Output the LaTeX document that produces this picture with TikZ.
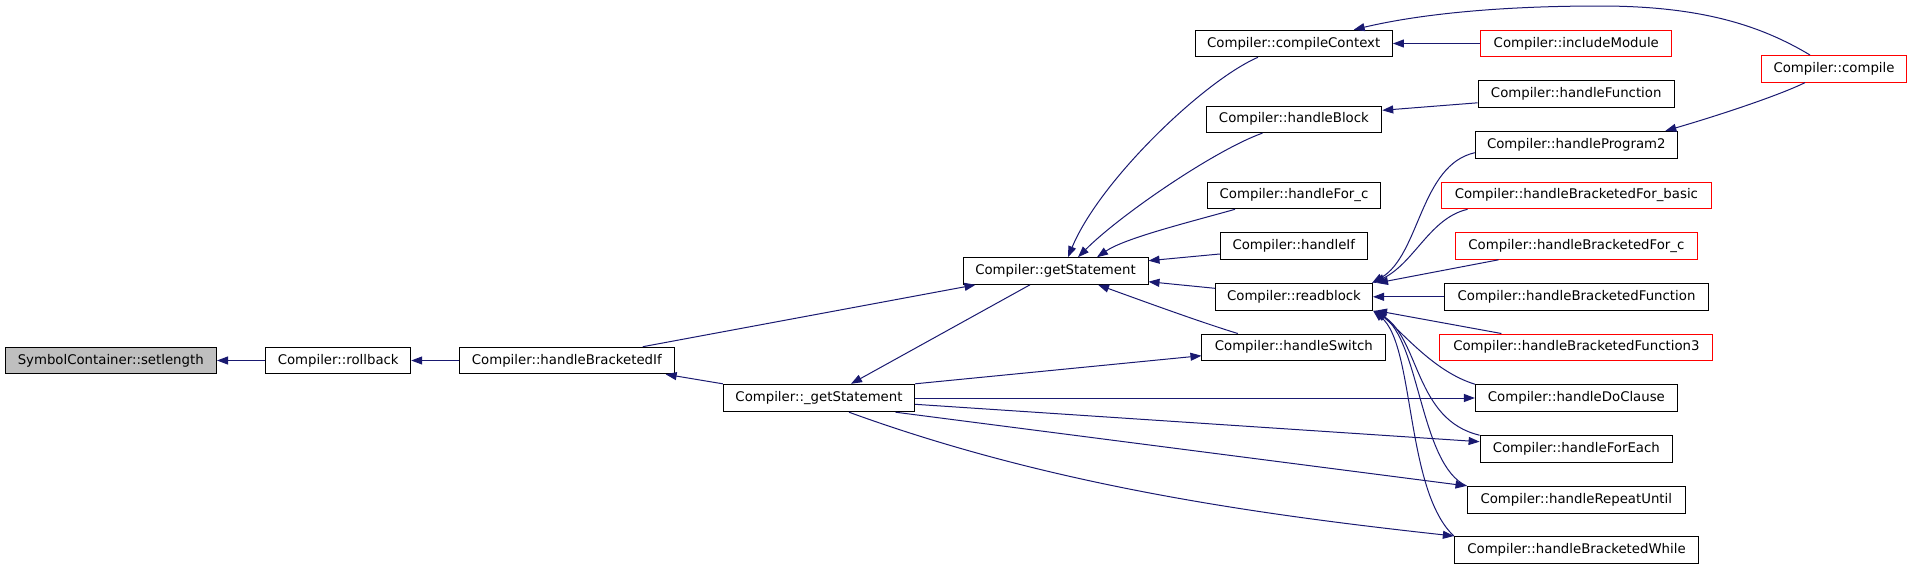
\documentclass[tikz,border=0pt]{standalone}
\usepackage{fontspec}
\setmainfont{DejaVu Sans}
\usetikzlibrary{arrows.meta,calc}
\definecolor{edgeblue}{RGB}{25,25,112}
\definecolor{nodegray}{RGB}{191,191,191}
\begin{document}
\begin{tikzpicture}[x=0.5pt,y=-0.5pt,
  box/.style={draw=black, line width=0.5pt, fill=white, inner sep=0pt, minimum height=13.3pt, font=\fontsize{6.65}{8}\selectfont},
  redbox/.style={box, draw=red},
  graybox/.style={box, fill=nodegray},
  edge/.style={draw=edgeblue, line width=0.5pt, -{Triangle[length=5.5pt,width=4pt]}}]
\useasboundingbox (0,0) rectangle (1912,568);
% nodes
\node[graybox, minimum width=105.75pt] (setlength) at (110.75,360.5) {SymbolContainer::setlength};
\node[box, minimum width=72.5pt] (rollback) at (338.2,360.5) {Compiler::rollback};
\node[box, minimum width=107.35pt] (bif) at (566.8,360.5) {Compiler::handleBracketedIf};
\node[box, minimum width=95.7pt, minimum height=13.7pt] (ugs) at (819,398) {Compiler::\_getStatement};
\node[box, minimum width=92.5pt] (gs) at (1055.5,271) {Compiler::getStatement};
\node[box, minimum width=98.7pt] (cc) at (1293.7,43.5) {Compiler::compileContext};
\node[redbox, minimum width=95.35pt] (im) at (1576.3,43.5) {Compiler::includeModule};
\node[redbox, minimum width=72.7pt] (comp) at (1834,68.8) {Compiler::compile};
\node[box, minimum width=98.15pt] (hfun) at (1576.2,93.8) {Compiler::handleFunction};
\node[box, minimum width=87.85pt] (hblock) at (1293.9,119.3) {Compiler::handleBlock};
\node[box, minimum width=101pt] (hprog) at (1576.3,144.7) {Compiler::handleProgram2};
\node[box, minimum width=86.4pt] (hforc) at (1294,195.5) {Compiler::handleFor\_c};
\node[redbox, minimum width=135.35pt] (bforb) at (1576.4,195.5) {Compiler::handleBracketedFor\_basic};
\node[box, minimum width=73.5pt] (hif) at (1293.8,246) {Compiler::handleIf};
\node[redbox, minimum width=121.35pt] (bforc) at (1576.4,246) {Compiler::handleBracketedFor\_c};
\node[box, minimum width=78.5pt] (rb) at (1294,296.8) {Compiler::readblock};
\node[box, minimum width=131.85pt] (bfun) at (1576.5,296.8) {Compiler::handleBracketedFunction};
\node[box, minimum width=91.85pt] (hsw) at (1293.8,347.3) {Compiler::handleSwitch};
\node[redbox, minimum width=136.5pt] (bf3) at (1576.4,347.3) {Compiler::handleBracketedFunction3};
\node[box, minimum width=101pt] (hdo) at (1576.4,398) {Compiler::handleDoClause};
\node[box, minimum width=96.2pt] (hfe) at (1576.3,449) {Compiler::handleForEach};
\node[box, minimum width=109.3pt] (hru) at (1576.3,499.7) {Compiler::handleRepeatUntil};
\node[box, minimum width=122.15pt] (bw) at (1576.5,549.8) {Compiler::handleBracketedWhile};
% edges
\draw[edge] (rollback.west) -- (setlength.east);
\draw[edge] (bif.west) -- (rollback.east);
\draw[edge] ($(bif.north)+(76,0)$) -- ($(gs.south)+(-80,0)$);
\draw[edge] (ugs.north west) -- ($(bif.south east)+(-9,0)$);
\draw[edge] ($(gs.south)+(-25.5,0)$) -- ($(ugs.north)+(32,0)$);
\draw[edge] (ugs.north east) -- ($(hsw.west)+(0,8.4)$);
\draw[edge] ($(hsw.north)+(-56,0)$) .. controls (1200,322) and (1140,300) .. ($(gs.south)+(42.5,0)$);
\draw[edge] ($(rb.west)+(0,-8.5)$) -- ($(gs.east)+(0,10.7)$);
\draw[edge] ($(hif.west)+(0,8)$) -- ($(gs.east)+(0,-10.3)$);
\draw[edge] ($(hforc.south)+(-59,0)$) .. controls (1190,222) and (1125,238) .. ($(gs.north)+(41.5,0)$);
\draw[edge] ($(hblock.south)+(-31.4,0)$) .. controls (1215,150) and (1120,215) .. ($(gs.north)+(22.5,0)$);
\draw[edge] ($(cc.south)+(-35.7,0)$) .. controls (1205,80) and (1100,180) .. ($(gs.north)+(12.5,0)$);
\draw[edge] (im.west) -- (cc.east);
\draw[edge] ($(comp.north)+(-24,0)$) .. controls (1760,25) and (1700,6) .. (1600,6) .. controls (1500,6) and (1420,14) .. ($(cc.north)+(60,0)$);
\draw[edge] ($(hfun.west)+(0,9)$) -- ($(hblock.east)+(0,-9)$);
\draw[edge] ($(comp.south)+(-29,0)$) .. controls (1780,95) and (1720,115) .. ($(hprog.north)+(89,0)$);
\draw[edge] ($(hprog.west)+(0,8)$) .. controls (1420,165) and (1420,255) .. ($(rb.north east)+(-1,0)$);
\draw[edge] ($(bforb.south west)+(27,0)$) .. controls (1430,218) and (1415,262) .. ($(rb.north east)+(1,0)$);
\draw[edge] ($(bforc.south west)+(44,0)$) -- ($(rb.north east)+(4,0)$);
\draw[edge] (bfun.west) -- (rb.east);
\draw[edge] ($(bf3.north west)+(62,0)$) -- ($(rb.south east)+(3,0)$);
\draw[edge] (hdo.north west) .. controls (1435,372) and (1405,335) .. ($(rb.south east)+(3,0)$);
\draw[edge] (hfe.north west) .. controls (1415,420) and (1420,340) .. ($(rb.south east)+(2,0)$);
\draw[edge] (hru.north west) .. controls (1420,465) and (1420,340) .. ($(rb.south east)+(1,0)$);
\draw[edge] (bw.north west) .. controls (1405,490) and (1415,345) .. ($(rb.south east)+(0,0)$);
\draw[edge] (ugs.east) -- (hdo.west);
\draw[edge] ($(ugs.east)+(0,6.3)$) -- ($(hfe.west)+(0,-7.3)$);
\draw[edge] ($(ugs.south)+(76.5,0)$) -- (hru.north west);
\draw[edge] ($(ugs.south)+(30,0)$) .. controls (1049,485) and (1253,514) .. (bw.north west);
\end{tikzpicture}
\end{document}
